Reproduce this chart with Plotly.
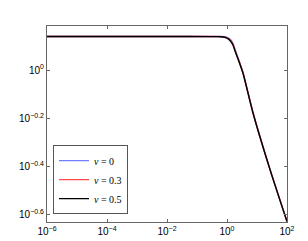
import plotly.graph_objects as go

# Data (log-log)
x_vals = [1e-6, 1e-4, 1e-2, 0.3, 0.63, 1.0, 1.26, 1.58, 1.85, 2.33, 3.4, 7.4, 27, 100]
y_nu0 = [1.379, 1.379, 1.379, 1.378, 1.378, 1.368, 1.345, 1.292, 1.22, 1.125, 0.978, 0.664, 0.388, 0.235]
y_nu03 = [1.379, 1.379, 1.379, 1.378, 1.377, 1.363, 1.336, 1.281, 1.21, 1.118, 0.975, 0.663, 0.387, 0.235]
y_nu05 = [1.379, 1.379, 1.379, 1.377, 1.376, 1.358, 1.327, 1.271, 1.199, 1.112, 0.972, 0.662, 0.387, 0.235]

series_names = ["<i>ν</i> = 0", "<i>ν</i> = 0.3", "<i>ν</i> = 0.5"]
series_colors = ["#6f7fff", "#ff4a4a", "#000000"]
series_values = [y_nu0, y_nu03, y_nu05]

x_tickvals = [1e-6, 1e-4, 1e-2, 1e0, 1e2]
x_ticktext = ["10<sup>−6</sup>", "10<sup>−4</sup>", "10<sup>−2</sup>", "10<sup>0</sup>", "10<sup>2</sup>"]
y_tick_exps = [-0.6, -0.4, -0.2, 0]
y_ticktext = ["10<sup>−0.6</sup>", "10<sup>−0.4</sup>", "10<sup>−0.2</sup>", "10<sup>0</sup>"]

fig = go.Figure()
for name, color, vals in zip(series_names, series_colors, series_values):
    fig.add_trace(go.Scatter(
        x=x_vals, y=vals, mode="lines", name=name,
        line=dict(color=color, width=1.4, shape="spline", smoothing=0.6),
    ))

axis_common = dict(
    showline=True, linecolor="#666666", linewidth=1, mirror="ticks",
    ticks="inside", ticklen=3, tickcolor="#666666", showgrid=False, zeroline=False,
    tickfont=dict(family="Liberation Sans, Arial, sans-serif", size=10, color="#000000"),
)

fig.update_layout(
    width=308, height=241,
    margin=dict(l=39, r=29, t=18, b=27),
    paper_bgcolor="white", plot_bgcolor="white",
    xaxis=dict(type="log", range=[-6, 2], tickvals=x_tickvals, ticktext=x_ticktext, **axis_common),
    yaxis=dict(type="log", range=[-0.631, 0.183],
               tickvals=[10 ** e for e in y_tick_exps], ticktext=y_ticktext, **axis_common),
    legend=dict(
        x=0.025, y=0.04, xanchor="left", yanchor="bottom",
        bgcolor="white", bordercolor="#555555", borderwidth=1,
        font=dict(family="Liberation Serif, DejaVu Serif, serif", size=10, color="#000000"),
        tracegroupgap=0, itemwidth=30,
    ),
    showlegend=True,
)

fig.write_html("out.html")
